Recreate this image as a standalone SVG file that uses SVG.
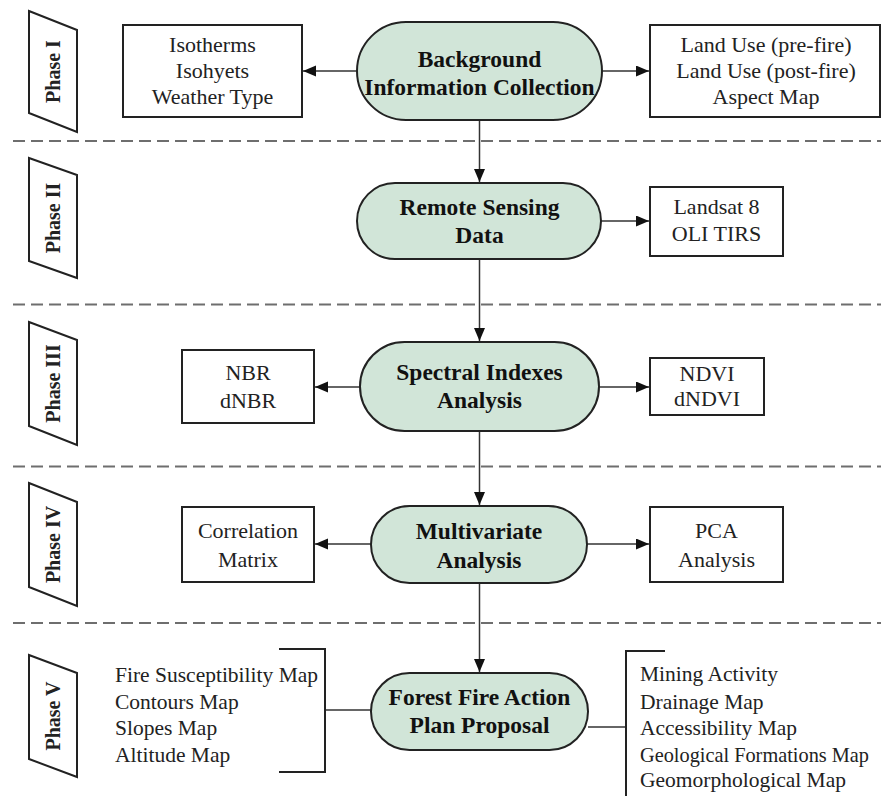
<svg xmlns="http://www.w3.org/2000/svg" width="881" height="796" viewBox="0 0 881 796">
<defs>
<marker id="ah" markerUnits="userSpaceOnUse" markerWidth="14" markerHeight="12" refX="13" refY="5.5" orient="auto">
<path d="M0,0 L13,5.5 L0,11 z" fill="#111"/>
</marker>
<style>
.phase{fill:#fff;stroke:#222;stroke-width:2}
.ptxt{font-family:"Liberation Serif",serif;font-weight:bold;font-size:20px;fill:#222}
.node{fill:#d1e5d8;stroke:#222;stroke-width:2}
.ntxt{font-family:"Liberation Serif",serif;font-weight:bold;font-size:23.5px;fill:#111;text-anchor:middle}
.box{fill:#fff;stroke:#222;stroke-width:2}
.btxt{font-family:"Liberation Serif",serif;font-size:22px;fill:#222;text-anchor:middle}
.ltxt{font-family:"Liberation Serif",serif;font-size:21.5px;fill:#222}
.dash{stroke:#6e6e6e;stroke-width:2;stroke-dasharray:12 6;fill:none}
.con{stroke:#333;stroke-width:1.5;fill:none}
.arr{stroke:#333;stroke-width:1.5;fill:none;marker-end:url(#ah)}
.brk{stroke:#222;stroke-width:2;fill:none}
</style>
</defs>
<rect width="881" height="796" fill="#fff"/>

<g id="separators">
<line class="dash" x1="13" y1="141" x2="881" y2="141"/>
<line class="dash" x1="13" y1="304.5" x2="881" y2="304.5"/>
<line class="dash" x1="13" y1="466.5" x2="881" y2="466.5"/>
<line class="dash" x1="13" y1="623" x2="881" y2="623"/>
</g>

<g id="phase1">
<polygon class="phase" points="29,11 77,30 77,132 29,113"/>
<text class="ptxt" text-anchor="middle" transform="translate(60,71.5) rotate(-90)">Phase I</text>
</g>
<g id="phase2">
<polygon class="phase" points="29,158 77,175 77,278 29,261"/>
<text class="ptxt" text-anchor="middle" transform="translate(60,218) rotate(-90)">Phase II</text>
</g>
<g id="phase3">
<polygon class="phase" points="29,322 77,340 77,445 29,426"/>
<text class="ptxt" text-anchor="middle" transform="translate(60,383.5) rotate(-90)">Phase III</text>
</g>
<g id="phase4">
<polygon class="phase" points="29,483 77,502 77,606 29,587"/>
<text class="ptxt" text-anchor="middle" transform="translate(60,544.5) rotate(-90)">Phase IV</text>
</g>
<g id="phase5">
<polygon class="phase" points="29,655 77,673 77,777 29,759"/>
<text class="ptxt" text-anchor="middle" transform="translate(60,716) rotate(-90)">Phase V</text>
</g>

<g id="connectors">
<line class="arr" x1="357" y1="71" x2="303" y2="71"/>
<line class="arr" x1="602" y1="71" x2="649" y2="71"/>
<line class="arr" x1="479.5" y1="120" x2="479.5" y2="182"/>
<line class="arr" x1="601" y1="221" x2="649" y2="221"/>
<line class="arr" x1="479.5" y1="259" x2="479.5" y2="341"/>
<line class="arr" x1="360" y1="387" x2="315" y2="387"/>
<line class="arr" x1="599" y1="387" x2="649" y2="387"/>
<line class="arr" x1="479.5" y1="431" x2="479.5" y2="505"/>
<line class="arr" x1="371" y1="544" x2="315" y2="544"/>
<line class="arr" x1="587" y1="544" x2="649" y2="544"/>
<line class="arr" x1="479.5" y1="583" x2="479.5" y2="672"/>
<line class="con" x1="325" y1="710" x2="371" y2="710"/>
<line class="con" x1="588" y1="727" x2="626" y2="727"/>
</g>

<g id="n1">
<rect class="node" x="357" y="22" width="245" height="98" rx="49"/>
<text class="ntxt" x="479.5" y="66.5">Background</text>
<text class="ntxt" x="479.5" y="94.5">Information Collection</text>
</g>
<g id="b1l">
<rect class="box" x="123" y="25" width="179" height="92"/>
<text class="btxt" x="212.5" y="52">Isotherms</text>
<text class="btxt" x="212.5" y="78">Isohyets</text>
<text class="btxt" x="212.5" y="104">Weather Type</text>
</g>
<g id="b1r">
<rect class="box" x="650" y="25" width="230" height="92"/>
<text class="btxt" x="766" y="52">Land Use (pre-fire)</text>
<text class="btxt" x="766" y="78">Land Use (post-fire)</text>
<text class="btxt" x="766" y="104">Aspect Map</text>
</g>

<g id="n2">
<rect class="node" x="357" y="183" width="244" height="76" rx="38"/>
<text class="ntxt" x="479.5" y="215">Remote Sensing</text>
<text class="ntxt" x="479.5" y="243">Data</text>
</g>
<g id="b2r">
<rect class="box" x="650" y="187" width="133" height="69"/>
<text class="btxt" x="716.5" y="214">Landsat 8</text>
<text class="btxt" x="716.5" y="241">OLI TIRS</text>
</g>

<g id="n3">
<rect class="node" x="360" y="342" width="239" height="89" rx="44.5"/>
<text class="ntxt" x="479.5" y="380">Spectral Indexes</text>
<text class="ntxt" x="479.5" y="408">Analysis</text>
</g>
<g id="b3l">
<rect class="box" x="182" y="350" width="132" height="73"/>
<text class="btxt" x="248" y="380">NBR</text>
<text class="btxt" x="248" y="408">dNBR</text>
</g>
<g id="b3r">
<rect class="box" x="650" y="358" width="114" height="57"/>
<text class="btxt" x="707" y="381">NDVI</text>
<text class="btxt" x="707" y="406">dNDVI</text>
</g>

<g id="n4">
<rect class="node" x="371" y="506" width="216" height="77" rx="38.5"/>
<text class="ntxt" x="479" y="539">Multivariate</text>
<text class="ntxt" x="479" y="568">Analysis</text>
</g>
<g id="b4l">
<rect class="box" x="182" y="507" width="132" height="75"/>
<text class="btxt" x="248" y="538">Correlation</text>
<text class="btxt" x="248" y="567">Matrix</text>
</g>
<g id="b4r">
<rect class="box" x="650" y="507" width="133" height="75"/>
<text class="btxt" x="716.5" y="538">PCA</text>
<text class="btxt" x="716.5" y="567">Analysis</text>
</g>

<g id="n5">
<rect class="node" x="371" y="673" width="217" height="77" rx="38.5"/>
<text class="ntxt" x="479.5" y="705">Forest Fire Action</text>
<text class="ntxt" x="479.5" y="733">Plan Proposal</text>
</g>
<g id="l5">
<path class="brk" d="M279,649 H325 V772 H279"/>
<text class="ltxt" x="115" y="682">Fire Susceptibility Map</text>
<text class="ltxt" x="115" y="709">Contours Map</text>
<text class="ltxt" x="115" y="735">Slopes Map</text>
<text class="ltxt" x="115" y="762">Altitude Map</text>
</g>
<g id="r5">
<path class="brk" d="M665,651 H626 V796"/>
<text class="ltxt" x="640" y="681">Mining Activity</text>
<text class="ltxt" x="640" y="709">Drainage Map</text>
<text class="ltxt" x="640" y="735">Accessibility Map</text>
<text class="ltxt" x="640" y="762" textLength="229" lengthAdjust="spacingAndGlyphs">Geological Formations Map</text>
<text class="ltxt" x="640" y="787">Geomorphological Map</text>
</g>
</svg>
